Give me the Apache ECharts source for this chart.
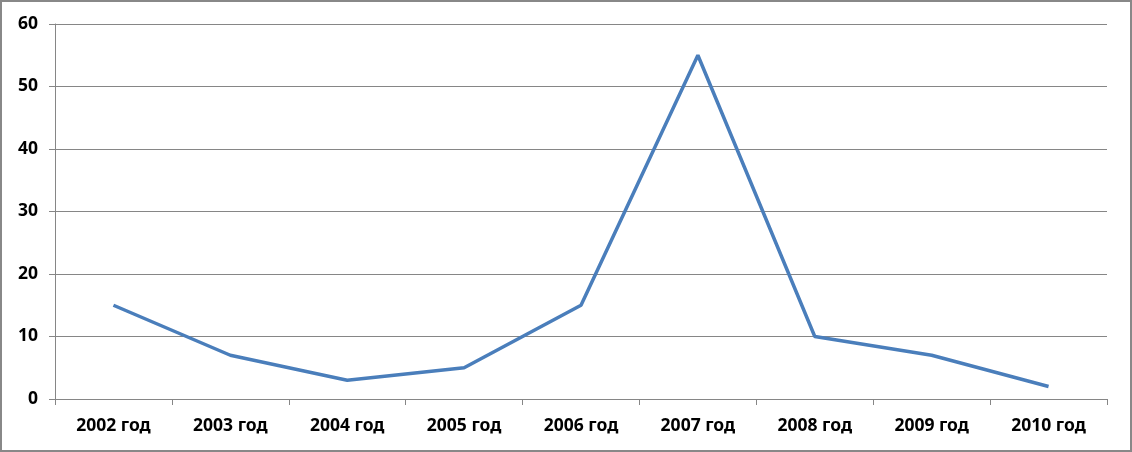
<!DOCTYPE html>
<html><head><meta charset="utf-8">
<script src="https://cdn.jsdelivr.net/npm/echarts@6/dist/echarts.min.js"></script>
<style>
html,body{margin:0;padding:0;background:#fff;}
#c{width:1132px;height:452px;box-sizing:border-box;border:2px solid #888;}
</style></head><body>
<div id="c"></div>
<script>
const categories = ['2002 год','2003 год','2004 год','2005 год','2006 год','2007 год','2008 год','2009 год','2010 год'];
const values = [15, 7, 3, 5, 15, 55, 10, 7, 2];
const yTicks = {min: 0, max: 60, interval: 10};

const chart = echarts.init(document.getElementById('c'), null, {renderer: 'canvas'});
chart.setOption({
  animation: false,
  grid: {left: 53, right: 23, top: 22, bottom: 51},
  xAxis: {
    type: 'category', data: categories, boundaryGap: true,
    axisLine: {lineStyle: {color: '#868686', width: 1}},
    axisTick: {show: true, length: 6, lineStyle: {color: '#868686'}},
    axisLabel: {color: '#000', fontWeight: 'bold', fontSize: 17.5, fontFamily: 'Noto Sans', margin: 18}
  },
  yAxis: {
    type: 'value', min: yTicks.min, max: yTicks.max, interval: yTicks.interval,
    axisLine: {show: true, lineStyle: {color: '#868686', width: 1}},
    axisTick: {show: true, length: 6, lineStyle: {color: '#868686'}},
    splitLine: {lineStyle: {color: '#868686', width: 1}},
    axisLabel: {color: '#000', fontWeight: 'bold', fontSize: 17.5, fontFamily: 'Noto Sans', margin: 17}
  },
  series: [{
    type: 'line', data: values, showSymbol: false, symbol: 'none',
    lineStyle: {color: '#4a7ebb', width: 3.5},
    itemStyle: {color: '#4a7ebb'}
  }]
});
</script></body></html>
